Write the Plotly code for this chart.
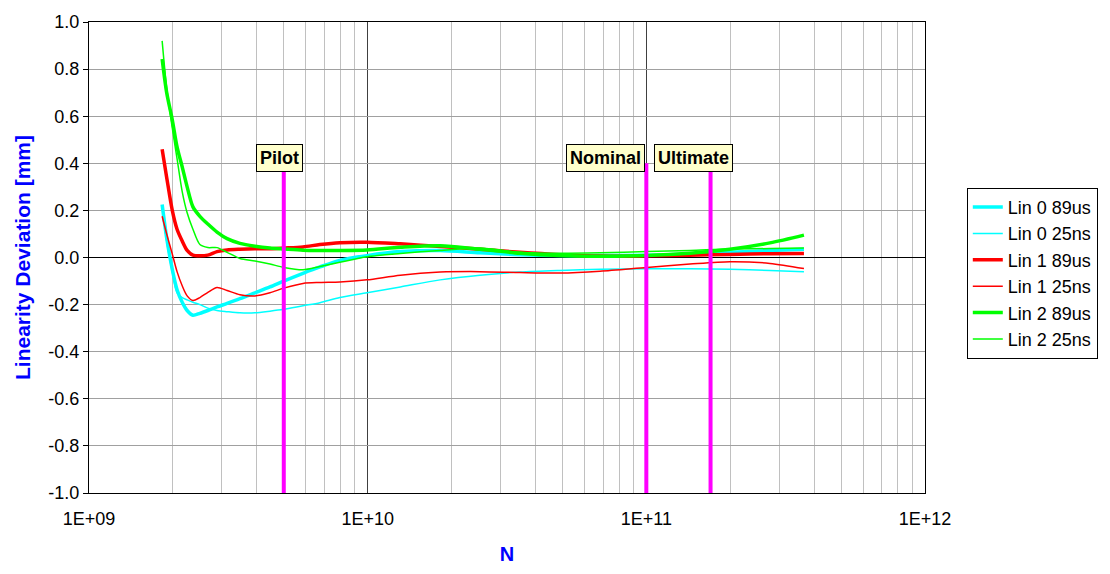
import math
import plotly.graph_objects as go

# Number of cycles N (log scale)
N = [1.83e9, 1.9e9, 1.99e9, 2.07e9, 2.16e9, 2.25e9, 2.36e9, 2.5e9, 2.67e9, 2.88e9,
     3.13e9, 3.48e9, 3.94e9, 4.46e9, 5.0e9, 5.86e9, 6.74e9, 7.95e9, 9.94e9, 1.31e10,
     1.82e10, 2.53e10, 3.52e10, 4.9e10, 6.82e10, 1.005e11, 1.434e11, 1.995e11, 2.777e11, 3.678e11]

# Linearity deviation [mm]
lin0_89us = [0.225, 0.083, -0.05, -0.137, -0.19, -0.225, -0.245, -0.237, -0.225, -0.21,
             -0.195, -0.175, -0.15, -0.125, -0.1, -0.067, -0.04, -0.012, 0.008, 0.025,
             0.03, 0.02, 0.012, 0.008, 0.008, 0.01, 0.015, 0.022, 0.03, 0.035]
lin0_25ns = [0.22, 0.07, -0.06, -0.15, -0.17, -0.18, -0.19, -0.2, -0.215, -0.225,
             -0.23, -0.235, -0.235, -0.228, -0.22, -0.205, -0.192, -0.17, -0.15, -0.125,
             -0.095, -0.075, -0.062, -0.055, -0.05, -0.048, -0.048, -0.05, -0.055, -0.06]
lin1_89us = [0.46, 0.34, 0.2, 0.12, 0.07, 0.03, 0.01, 0.007, 0.01, 0.025,
             0.032, 0.035, 0.037, 0.037, 0.04, 0.045, 0.055, 0.063, 0.065, 0.058,
             0.047, 0.035, 0.022, 0.012, 0.006, 0.007, 0.01, 0.013, 0.016, 0.017]
lin1_25ns = [0.175, 0.1, 0.015, -0.06, -0.12, -0.163, -0.183, -0.17, -0.148, -0.127,
             -0.14, -0.158, -0.163, -0.15, -0.13, -0.11, -0.106, -0.104, -0.095, -0.075,
             -0.062, -0.06, -0.064, -0.066, -0.058, -0.042, -0.028, -0.018, -0.025, -0.047]
lin2_89us = [0.843, 0.7, 0.585, 0.47, 0.385, 0.3, 0.215, 0.175, 0.142, 0.108,
             0.08, 0.06, 0.048, 0.04, 0.036, 0.031, 0.03, 0.03, 0.032, 0.043,
             0.05, 0.035, 0.018, 0.008, 0.005, 0.008, 0.018, 0.035, 0.062, 0.095]
lin2_25ns = [0.92, 0.72, 0.55, 0.42, 0.28, 0.19, 0.12, 0.055, 0.042, 0.042,
             0.022, -0.004, -0.015, -0.028, -0.042, -0.052, -0.038, -0.02, 0.003, 0.017,
             0.03, 0.04, 0.022, 0.018, 0.02, 0.025, 0.03, 0.036, 0.038, 0.04]

series_names = ["Lin 0 89us", "Lin 0 25ns", "Lin 1 89us", "Lin 1 25ns", "Lin 2 89us", "Lin 2 25ns"]
series_values = [lin0_89us, lin0_25ns, lin1_89us, lin1_25ns, lin2_89us, lin2_25ns]
series_colors = ["#00ffff", "#00ffff", "#ff0000", "#ff0000", "#00ff00", "#00ff00"]
series_widths = [3.5, 1.5, 3.5, 1.5, 3.5, 1.5]

# Luminosity milestones
milestones = ["Pilot", "Nominal", "Ultimate"]
milestone_N = [5.0e9, 1.0e11, 1.7e11]
milestone_label_N = [4.84e9, 7.13e10, 1.48e11]
milestone_top = 0.4

x_ticks = [1e9, 1e10, 1e11, 1e12]
x_tick_labels = ["1E+09", "1E+10", "1E+11", "1E+12"]
y_ticks = [1.0, 0.8, 0.6, 0.4, 0.2, 0.0, -0.2, -0.4, -0.6, -0.8, -1.0]
y_tick_labels = ["1.0", "0.8", "0.6", "0.4", "0.2", "0.0", "-0.2", "-0.4", "-0.6", "-0.8", "-1.0"]

FONT = "Liberation Sans, Arial, sans-serif"

fig = go.Figure()

for name, vals, col, w in zip(series_names, series_values, series_colors, series_widths):
    fig.add_trace(go.Scatter(
        x=N, y=vals, mode="lines", name=name,
        line=dict(color=col, width=w, shape="spline", smoothing=0.8),
    ))

for n in milestone_N:
    fig.add_trace(go.Scatter(
        x=[n, n], y=[-1.0, milestone_top], mode="lines", showlegend=False,
        line=dict(color="#ff00ff", width=4), hoverinfo="skip",
    ))

for label, n in zip(milestones, milestone_label_N):
    fig.add_annotation(
        x=math.log10(n), y=milestone_top, xref="x", yref="y", text="<b>%s</b>" % label,
        showarrow=False, bgcolor="#ffffcc", bordercolor="#000000", borderwidth=1,
        borderpad=3, yshift=5, font=dict(family=FONT, size=18, color="#000000"),
    )

fig.update_layout(
    width=1110, height=574,
    margin=dict(l=89, r=185, t=14, b=80),
    paper_bgcolor="#ffffff", plot_bgcolor="#ffffff",
    font=dict(family=FONT, size=18, color="#000000"),
    showlegend=True,
    legend=dict(
        x=1.05, y=0.648, xanchor="left", yanchor="top",
        bordercolor="#000000", borderwidth=1, bgcolor="#ffffff",
        font=dict(family=FONT, size=18, color="#000000"),
        tracegroupgap=0, itemwidth=30,
    ),
    xaxis=dict(
        type="log", range=[9, 12],
        tickvals=x_ticks, ticktext=x_tick_labels,
        showgrid=True, gridcolor="#404040", gridwidth=1,
        minor=dict(dtick="D1", showgrid=True, gridcolor="#c0c0c0", gridwidth=1),
        showline=True, linecolor="#000000", linewidth=1, mirror=True,
        ticks="", ticklabelstandoff=9,
        tickfont=dict(family=FONT, size=18),
        title=dict(text="<b>N</b>", font=dict(family=FONT, size=20, color="#0000ff"), standoff=19),
        zeroline=False,
    ),
    yaxis=dict(
        range=[-1.0, 1.0], tickvals=y_ticks, ticktext=y_tick_labels,
        showgrid=True, gridcolor="#a0a0a0", gridwidth=1,
        zeroline=True, zerolinecolor="#000000", zerolinewidth=1,
        showline=True, linecolor="#000000", linewidth=1, mirror=True,
        ticks="outside", ticklen=5, tickcolor="#000000",
        tickfont=dict(family=FONT, size=18),
        title=dict(text="<b>Linearity Deviation [mm]</b>", font=dict(family=FONT, size=21, color="#0000ff"), standoff=12),
    ),
)

fig.write_html("out.html")
